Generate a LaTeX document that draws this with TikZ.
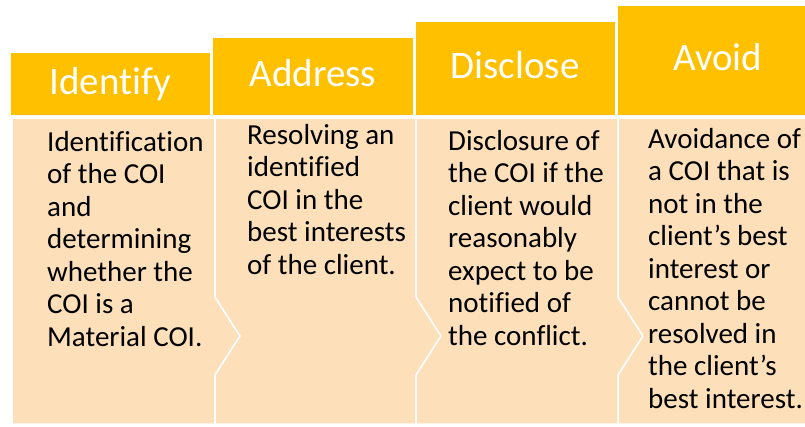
\documentclass[tikz,border=0pt]{standalone}
\usepackage{fontspec}
\setmainfont{Carlito}[Ligatures=NoCommon]
\usetikzlibrary{positioning}
\definecolor{gold}{HTML}{FFC000}
\definecolor{peach}{HTML}{FDDFBA}
\tikzstyle{head}=[draw=white,fill=gold,line width=1.5pt,rectangle,minimum width=201pt,text=white,font=\fontsize{39}{42}\selectfont,text height=27pt,text depth=6pt,anchor=south west]
\tikzstyle{body}=[draw=white,fill=peach,line width=1.5pt]
\tikzstyle{desc}=[anchor=north west,align=left,inner sep=0pt,font=\fontsize{29}{32.5}\selectfont]

\begin{document}
\begin{tikzpicture}[x=1pt,y=-1pt]
            \useasboundingbox (0,0) rectangle (805,426);
            \clip (0,0) rectangle (805,426);
            % stepped headers
            \node[head, minimum height=63pt] (identify) at (9,116) {Identify};
            \node[head, minimum height=78pt] (address) at (identify.south east) {Address};
            \node[head, minimum height=94pt] (disclose) at (address.south east) {Disclose};
            \node[head, minimum height=110pt] (avoid) at (disclose.south east) {Avoid};
            % chevron panels underneath
            \draw[body] (12,118) -- (215,118) -- (215,297) -- (240,336) -- (215,375) -- (215,424) -- (12,424) -- cycle;
            \draw[body] (215,118) -- (416,118) -- (416,297) -- (441,336) -- (416,375) -- (416,424) -- (215,424) -- (215,375) -- (240,336) -- (215,297) -- cycle;
            \draw[body] (416,118) -- (618,118) -- (618,297) -- (643,336) -- (618,375) -- (618,424) -- (416,424) -- (416,375) -- (441,336) -- (416,297) -- cycle;
            \draw[body] (618,118) -- (820,118) -- (820,424) -- (618,424) -- (618,375) -- (643,336) -- (618,297) -- cycle;
            % descriptions
            \node[desc] (identifytext) at (47,131) {Identification\\of the COI\\and\\determining\\whether the\\COI is a\\Material COI.};
            \node[desc] (addresstext) at (247,124) {Resolving an\\identified\\COI in the\\best interests\\of the client.};
            \node[desc] (disclosetext) at (448,130) {Disclosure of\\the COI if the\\client would\\reasonably\\expect to be\\notified of\\the conflict.};
            \node[desc] (avoidtext) at (648,128) {Avoidance of\\a COI that is\\not in the\\client’s best\\interest or\\cannot be\\resolved in\\the client’s\\best interest.};
        \end{tikzpicture}
\end{document}
